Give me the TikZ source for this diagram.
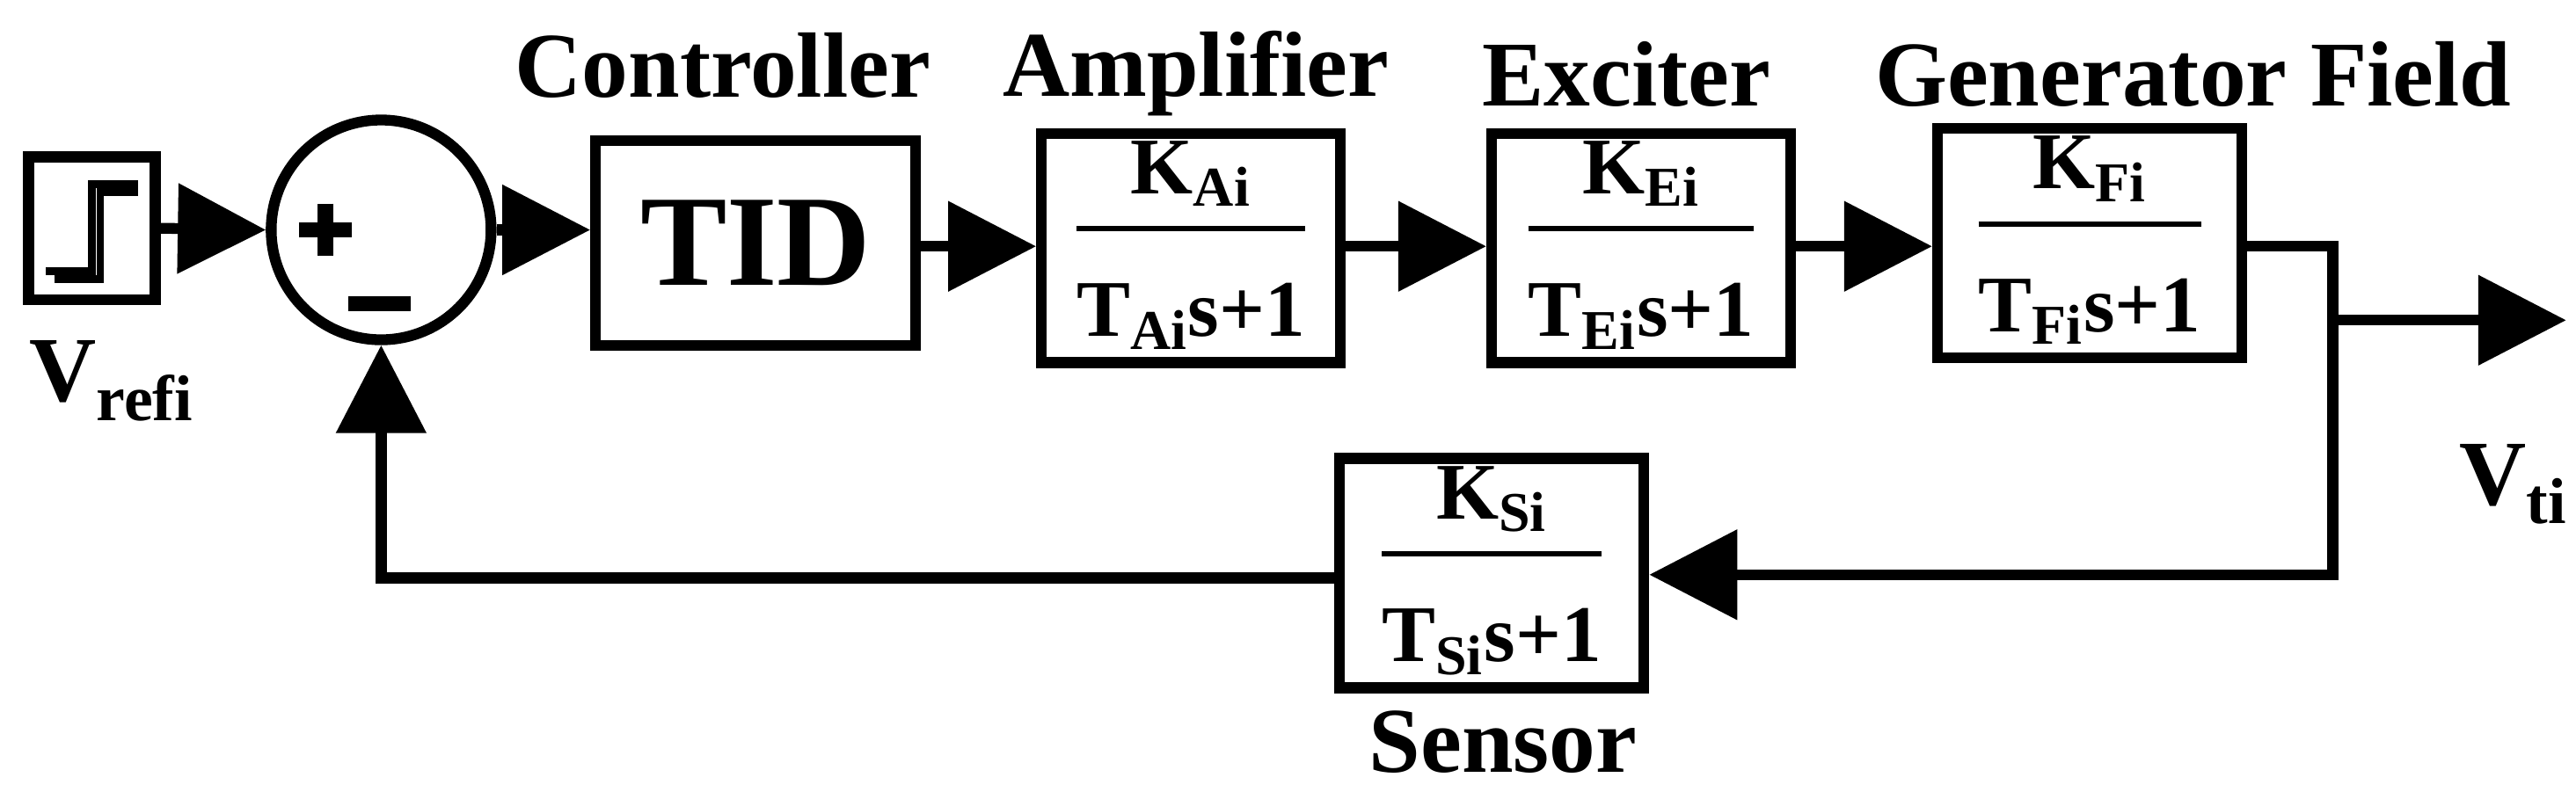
\documentclass[tikz,border=0pt]{standalone}
\usepackage{fontspec}
\setmainfont{Liberation Serif}
\usetikzlibrary{positioning,arrows.meta}
\newcommand{\tfrac}[1]{\setlength{\arrayrulewidth}{1.8pt}\begin{tabular}{@{}c@{}}K\textsubscript{#1}\\[2pt]\hline\rule{0pt}{34pt}T\textsubscript{#1}s+1\end{tabular}}
\tikzset{
  blk/.style={draw, line width=3.5pt, minimum width=3.4cm, minimum height=2.5cm, inner sep=0pt, font=\fontsize{26}{28}\selectfont\bfseries},
  lbl/.style={font=\fontsize{30}{32}\selectfont\bfseries},
  sig/.style={line width=3.5pt, -{Triangle[length=1.0cm,width=1.0cm]}},
  wire/.style={line width=3.5pt},
  sgn/.style={line width=5pt}
}
\begin{document}
\begin{tikzpicture}[x=0.01868cm,y=-0.01868cm]
\useasboundingbox (0,0) rectangle (1568,482);

% Source and summing junction
\node[draw, line width=3.5pt, minimum width=1.44cm, minimum height=1.62cm] (step) at (56,139) {};
\draw[line width=2.5pt] (28,165) -- (56,165) -- (56,112) -- (84,112);
\draw[line width=2.5pt] (33,170) -- (61,170) -- (61,117) -- (84,117);
\node[lbl] (vref) at (68,232) {V\textsubscript{refi}};
\node[draw, circle, line width=3.5pt, minimum size=2.5cm] (sum) at (232,140) {};
\draw[sgn] (182,140) -- (214,140) (198,124) -- (198,156);
\draw[sgn] (212,185) -- (250,185);

% Forward path
\node[blk, minimum width=3.64cm, minimum height=2.33cm, font=\fontsize{42}{44}\selectfont\bfseries] (tid) at (460,148) {TID};
\node[blk] (amp) at (725,151) {\tfrac{Ai}};
\node[blk] (exc) at (999,151) {\tfrac{Ei}};
\node[blk, minimum width=3.46cm] (gen) at (1272,148) {\tfrac{Fi}};
\node[blk, minimum width=3.46cm, minimum height=2.58cm] (sen) at (908,349) {\tfrac{Si}};

\node[lbl] at (440,40) {Controller};
\node[lbl] at (728,45) {Amplifier};
\node[lbl] at (990,45) {Exciter};
\node[lbl] at (1335,45) {Generator Field};
\node[lbl] at (915,452) {Sensor};

\coordinate (br) at (1420,150);
\coordinate (bo) at (1420,195);
\coordinate (out) at (1562,195);
\coordinate (bd) at (1420,350);
\coordinate (fl) at (232,352);
\node[lbl] at (1530,295) {V\textsubscript{ti}};

\draw[sig] (step.east) -- (sum.west);
\draw[sig] (sum.east) -- (tid.west |- sum.east);
\draw[sig] (tid.east |- 0,150) -- (amp.west |- 0,150);
\draw[sig] (amp.east |- 0,150) -- (exc.west |- 0,150);
\draw[sig] (exc.east |- 0,150) -- (gen.west |- 0,150);
\draw[wire] (gen.east |- br) -- (br) -- (bo);
\draw[sig] (bo) -- (out);
\draw[sig] (bo) -- (bd) -- (sen.east |- bd);
\draw[sig] (sen.west |- fl) -- (fl) -- (sum.south);
\end{tikzpicture}
\end{document}
